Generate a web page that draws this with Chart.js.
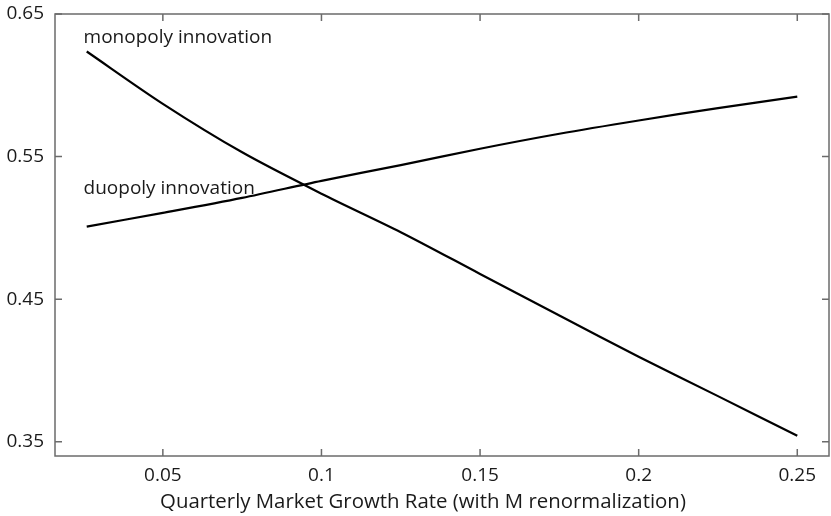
<!DOCTYPE html>
<html>
<head>
<meta charset="utf-8">
<script src="https://cdn.jsdelivr.net/npm/chart.js@4/dist/chart.umd.min.js"></script>
<style>
  html, body { margin: 0; padding: 0; background: #fff; }
  #wrap { width: 831px; height: 516px; }
</style>
</head>
<body>
<div id="wrap"><canvas id="growthChart" width="831" height="516"></canvas></div>
<script>
const growthRates = [0.026, 0.05, 0.075, 0.1, 0.125, 0.15, 0.175, 0.2, 0.225, 0.25];
const monopoly = [0.6237, 0.587, 0.553, 0.524, 0.497, 0.4677, 0.4385, 0.4096, 0.382, 0.3542];
const duopoly = [0.5009, 0.5105, 0.521, 0.533, 0.544, 0.5555, 0.566, 0.5753, 0.584, 0.592];

const xTicks = [0.05, 0.1, 0.15, 0.2, 0.25];
const yTicks = [0.35, 0.45, 0.55, 0.65];

const xTitle = "Quarterly Market Growth Rate (with M renormalization)";

const seriesLabels = [
  { text: "monopoly innovation", x: 0.025, y: 0.6335 },
  { text: "duopoly innovation", x: 0.025, y: 0.5275 },
];

const fontFamily = "'Open Sans', 'Noto Sans', sans-serif",
  inkColor = "#1a1a1a",
  frameColor = "#6b6b6b";

const toPoints = (ys) => ys.map((y, i) => ({ x: growthRates[i], y }));

// box round the plot with inward ticks on all four sides, curve labels and axis title
const framePlugin = {
  id: "frame",
  afterDatasetsDraw(chart) {
    const { ctx, chartArea: a, scales } = chart;
    ctx.save();
    ctx.strokeStyle = frameColor;
    ctx.lineWidth = 1.5;
    ctx.strokeRect(a.left, a.top, a.right - a.left, a.bottom - a.top);
    ctx.beginPath();
    xTicks.forEach((v) => {
      const px = scales.x.getPixelForValue(v);
      ctx.moveTo(px, a.bottom); ctx.lineTo(px, a.bottom - 7);
      ctx.moveTo(px, a.top); ctx.lineTo(px, a.top + 7);
    });
    yTicks.forEach((v) => {
      const py = scales.y.getPixelForValue(v);
      ctx.moveTo(a.left, py); ctx.lineTo(a.left + 7, py);
      ctx.moveTo(a.right, py); ctx.lineTo(a.right - 7, py);
    });
    ctx.stroke();

    ctx.fillStyle = inkColor;
    ctx.font = "19px " + fontFamily;
    ctx.textAlign = "left";
    ctx.textBaseline = "middle";
    seriesLabels.forEach((l) => {
      ctx.fillText(l.text, scales.x.getPixelForValue(l.x), scales.y.getPixelForValue(l.y));
    });

    // the title in the original sits a little left of the plot centre
    ctx.font = "20.4px " + fontFamily;
    ctx.textAlign = "center";
    ctx.fillText(xTitle, scales.x.getPixelForValue(0.132), a.bottom + 46);
    ctx.restore();
  },
};

const lineStyle = {
  borderColor: "#000",
  borderWidth: 2.2,
  pointRadius: 0,
  tension: 0.3,
  fill: false,
};

new Chart(document.getElementById("growthChart"), {
  type: "line",
  data: {
    datasets: [
      { ...lineStyle, label: "monopoly innovation", data: toPoints(monopoly) },
      { ...lineStyle, label: "duopoly innovation", data: toPoints(duopoly) },
    ],
  },
  options: {
    responsive: false,
    animation: false,
    layout: { padding: { top: 14, right: 2, left: 0, bottom: 0 } },
    plugins: { legend: { display: false }, tooltip: { enabled: false } },
    scales: {
      x: {
        type: "linear",
        min: 0.016,
        max: 0.26,
        afterBuildTicks: (s) => { s.ticks = xTicks.map((v) => ({ value: v })); },
        afterFit: (s) => {
          s.height = 60;
          s.paddingLeft = 0;
          s.paddingRight = 0;
        },
        grid: { display: false, drawTicks: false },
        border: { display: false },
        ticks: {
          padding: 8,
          color: inkColor,
          font: { family: fontFamily, size: 19 },
          callback: (v) => String(v),
        },
      },
      y: {
        min: 0.34,
        max: 0.65,
        afterBuildTicks: (s) => { s.ticks = yTicks.map((v) => ({ value: v })); },
        afterFit: (s) => {
          s.width = 55;
          s.paddingTop = 0;
          s.paddingBottom = 0;
        },
        grid: { display: false, drawTicks: false },
        border: { display: false },
        ticks: {
          padding: 11,
          color: inkColor,
          font: { family: fontFamily, size: 19 },
          callback: (v) => v.toFixed(2),
        },
      },
    },
  },
  plugins: [framePlugin],
});
</script>
</body>
</html>
